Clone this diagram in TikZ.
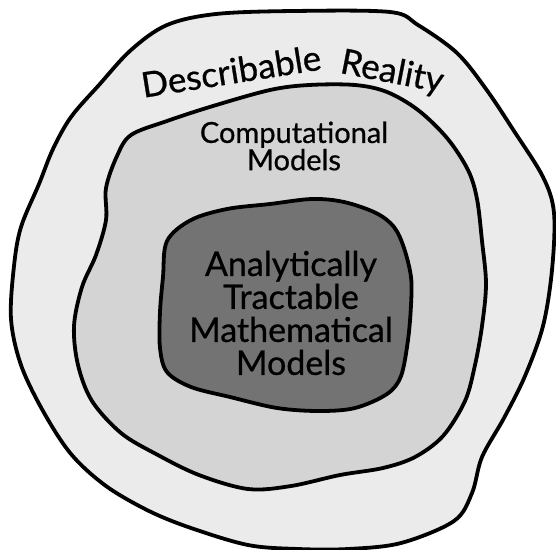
\documentclass[tikz,border=0pt]{standalone}
\usepackage{fontspec}
\setmainfont{Lato}
\newfontfamily\handfont[FakeBold=0.7]{Lato}
\begin{document}
\begin{tikzpicture}[x=1pt,y=-1pt,
  blob/.style={draw=black,line width=3.8pt,line join=round},
  lbl/.style={inner sep=0pt,text=black,align=center}]
\useasboundingbox (0,0) rectangle (556,549);
\definecolor{outerfill}{HTML}{EBEBEB}
\definecolor{midfill}{HTML}{D4D4D4}
\definecolor{innerfill}{HTML}{737373}
% outer region
\draw[blob,fill=outerfill] plot[smooth cycle,tension=0.55] coordinates {
 (167,25) (216,14) (294,11) (390,12) (418,25) (457,53) (486,89) (514,131)
 (543,177) (554,213) (552,270) (543,326) (525,376) (504,418) (482,457)
 (472,493) (454,521) (401,543) (348,549) (298,549) (248,545) (191,528)
 (149,511) (106,486) (71,454) (43,411) (21,365) (11,319) (14,266) (21,227)
 (39,184) (53,149) (71,117) (99,85) (131,50)};
% middle region
\draw[blob,fill=midfill] plot[smooth cycle,tension=0.55] coordinates {
 (131,135) (167,121) (213,106) (270,90) (309,85) (355,85) (387,92) (418,110)
 (447,138) (468,170) (477,199) (482,241) (486,284) (482,326) (475,365)
 (465,401) (443,436) (415,457) (383,468) (340,475) (291,486) (248,489)
 (199,475) (156,454) (121,433) (92,401) (78,365) (74,326) (82,287) (96,255)
 (106,220) (106,188) (117,156)};
% inner region
\draw[blob,fill=innerfill] plot[smooth cycle,tension=0.55] coordinates {
 (167,241) (191,220) (227,209) (270,204) (312,199) (344,202) (376,213)
 (394,227) (404,248) (411,277) (411,305) (408,340) (401,376) (387,394)
 (355,408) (319,411) (277,408) (230,397) (191,387) (167,372) (160,348)
 (160,312) (163,277)};
% labels
\node[lbl,font=\handfont\fontsize{35}{35}\selectfont,rotate=9] (desc) at (231,71) {Describable};
\node[lbl,font=\handfont\fontsize{35}{35}\selectfont,rotate=-11] (real) at (392,73) {Reality};
\node[lbl,font=\handfont\fontsize{29}{24}\selectfont] (comp) at (294,146) {Computational\\Models};
\node[lbl,font=\handfont\fontsize{34}{33}\selectfont] (anal) at (291,313) {Analytically\\Tractable\\Mathematical\\Models};
\end{tikzpicture}
\end{document}
